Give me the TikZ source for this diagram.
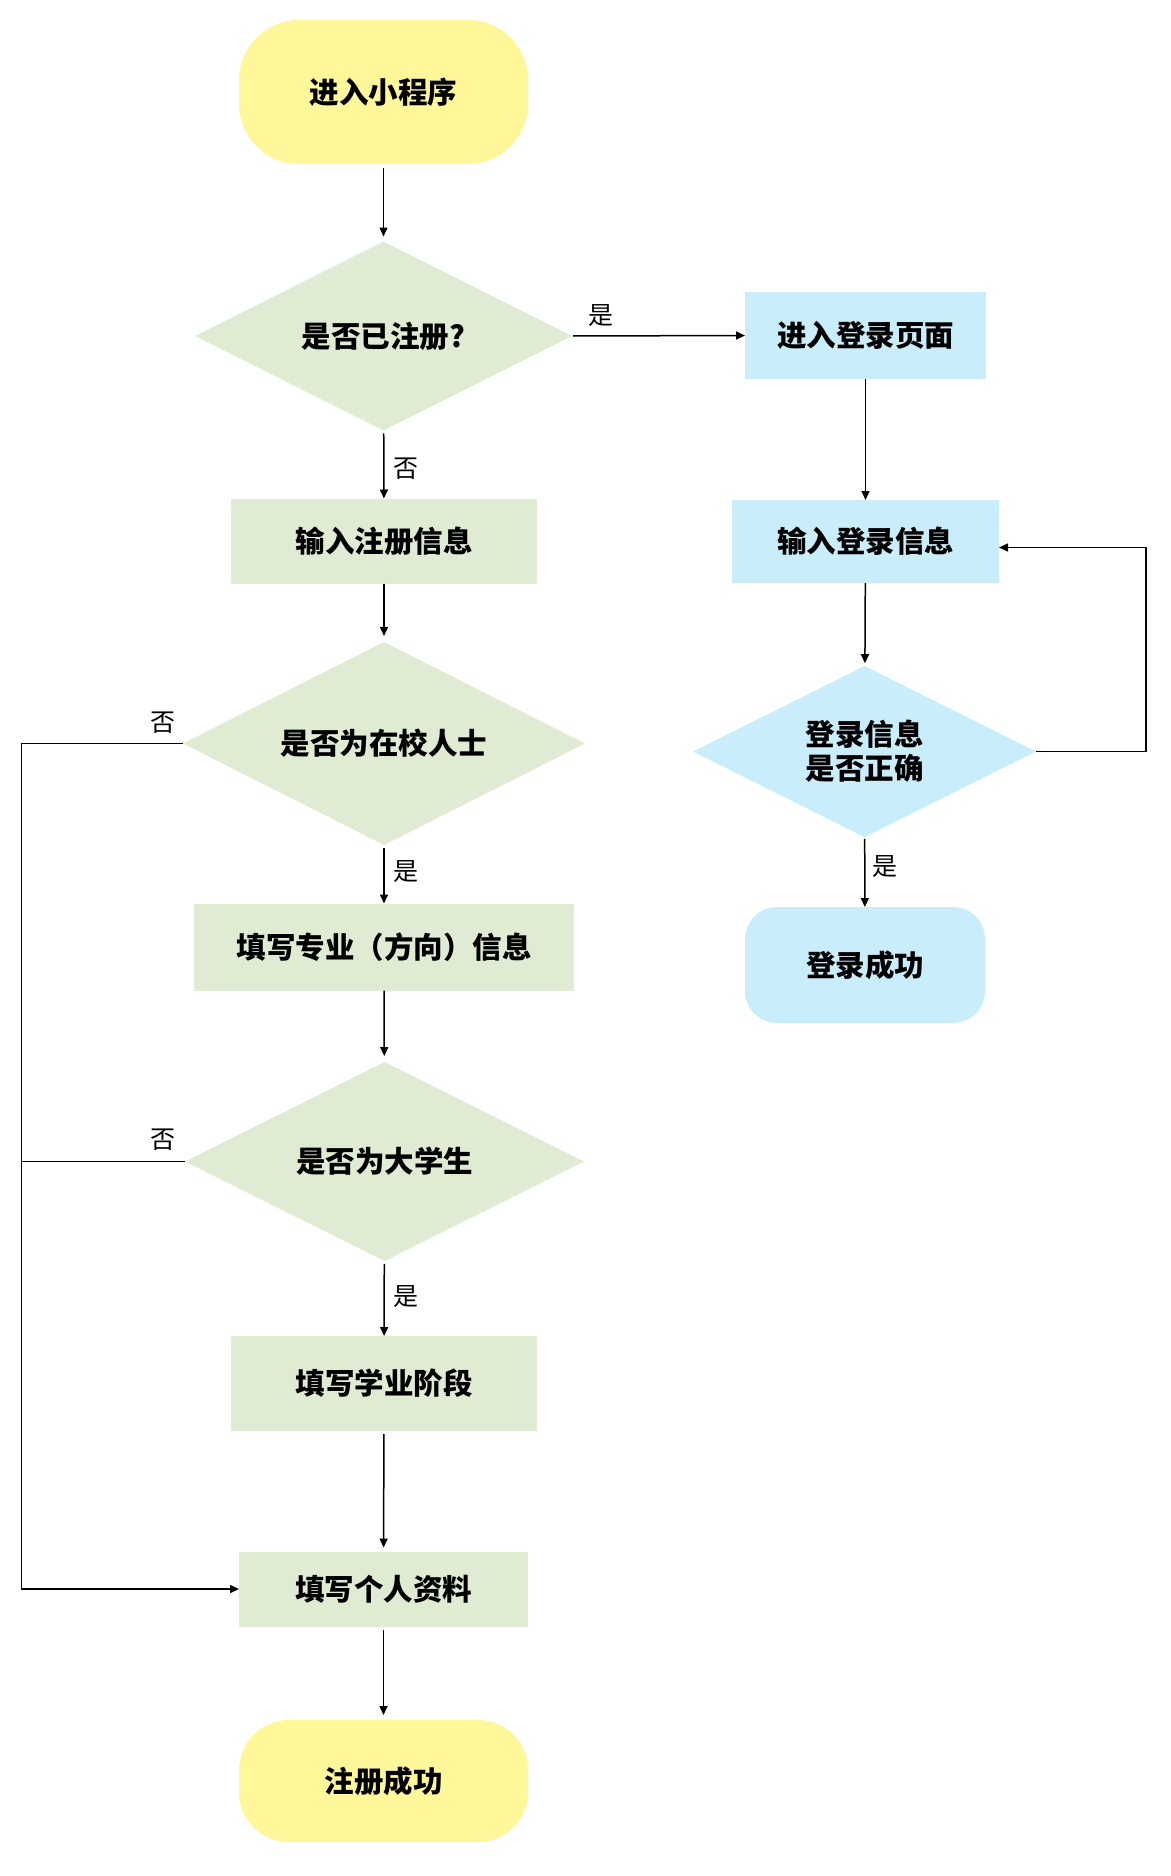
\documentclass[tikz,border=0pt]{standalone}
\usepackage{fontspec}
\setmainfont{Noto Sans CJK SC}
\usetikzlibrary{shapes.geometric,arrows.meta}
\definecolor{tyellow}{HTML}{FFF799}
\definecolor{fgreen}{HTML}{DFECD3}
\definecolor{fblue}{HTML}{C9EDFB}
\tikzset{
  base/.style={inner sep=0pt, outer sep=0pt, font=\bfseries\fontsize{29.5}{34}\selectfont, text=black, align=center},
  term/.style={base, fill=tyellow, rounded corners=60pt},
  gbox/.style={base, fill=fgreen},
  bbox/.style={base, fill=fblue},
  gdia/.style={base, diamond, aspect=2, fill=fgreen},
  bdia/.style={base, diamond, aspect=2, fill=fblue},
  conn/.style={line width=1.5pt, -{Triangle[length=9pt,width=8pt]}},
  plain/.style={line width=1.5pt},
  lbl/.style={font=\fontsize{25}{29}\selectfont, inner sep=0pt}
}
\begin{document}
\begin{tikzpicture}[x=1pt,y=-1pt]
\useasboundingbox (0,0) rectangle (1170,1876);
% left column
\node[term, minimum width=289pt, minimum height=144pt] (start) at (383.5,92) {进入小程序};
\node[gdia, minimum width=377pt, minimum height=189pt] (d1) at (383.5,336) {是否已注册?};
\node[gbox, minimum width=306pt, minimum height=85pt] (reg) at (384,541) {输入注册信息};
\node[gdia, minimum width=402pt, minimum height=203pt] (d2) at (384,743.5) {是否为在校人士};
\node[gbox, minimum width=380pt, minimum height=87pt] (major) at (384,947) {填写专业（方向）信息};
\node[gdia, minimum width=399pt, minimum height=199pt] (d4) at (384.5,1161.5) {是否为大学生};
\node[gbox, minimum width=306pt, minimum height=95pt] (stage) at (384,1383.5) {填写学业阶段};
\node[gbox, minimum width=289pt, minimum height=75pt] (profile) at (383.5,1589) {填写个人资料};
\node[term, rounded corners=50pt, minimum width=289pt, minimum height=122pt] (endn) at (383.5,1781) {注册成功};
% right column
\node[bbox, minimum width=241pt, minimum height=87pt] (login) at (865.5,335.5) {进入登录页面};
\node[bbox, minimum width=267pt, minimum height=83pt] (linput) at (865.5,541.5) {输入登录信息};
\node[bdia, minimum width=343pt, minimum height=171pt] (d3) at (864.5,751.5) {登录信息\\是否正确};
\node[bbox, rounded corners=32pt, minimum width=240pt, minimum height=116pt] (lsucc) at (865,965) {登录成功};
% connectors
\draw[conn, shorten <=4pt, shorten >=5pt] (start) -- (d1);
\draw[conn, shorten <=3pt] (d1) -- (reg);
\draw[conn, shorten <=1pt] (d1.east) -- (login.west);
\draw[conn, shorten >=6pt] (reg) -- (d2);
\draw[conn, shorten <=3pt] (d2) -- (major);
\draw[conn, shorten >=6pt] (major) -- (d4);
\draw[conn, shorten <=3pt] (d4) -- (stage);
\draw[conn, shorten <=3pt, shorten >=4pt] (stage) -- (profile);
\draw[conn, shorten <=3pt, shorten >=5pt] (profile) -- (endn);
\draw[conn] (login) -- (linput);
\draw[conn, shorten >=3pt] (linput) -- (d3);
\draw[conn, shorten <=2pt] (d3) -- (lsucc);
\coordinate (RL) at (1146,751.5);
\draw[conn] (d3.east) -- (RL) |- ([yshift=-6pt]linput.east);
\coordinate (LL) at (21.5,743.5);
\draw[conn] (d2.west) -- (LL) |- (profile.west);
\draw[plain] (d4.west) -- (d4.west -| LL);
% labels
\node[lbl] (l1) at (601,316) {是};
\node[lbl] (l2) at (405.5,469) {否};
\node[lbl] (l3) at (163,722.5) {否};
\node[lbl] (l4) at (405.5,872) {是};
\node[lbl] (l5) at (163,1140) {否};
\node[lbl] (l6) at (405.5,1297) {是};
\node[lbl] (l7) at (885,867) {是};
\end{tikzpicture}
\end{document}
